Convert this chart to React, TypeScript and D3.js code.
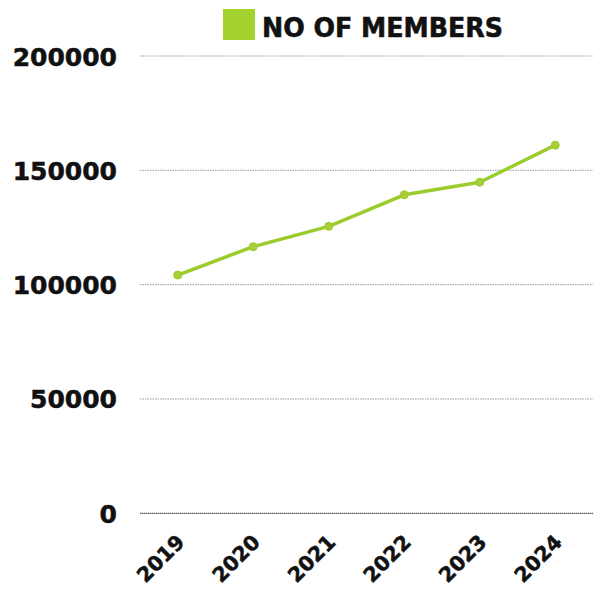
import React from "react";
import * as d3 from "d3";

const years = ["2019", "2020", "2021", "2022", "2023", "2024"];
const members = [104200, 116600, 125500, 139300, 144800, 161000];
const yTicks = [0, 50000, 100000, 150000, 200000];
const legendLabel = "NO OF MEMBERS";

const W = 600;
const H = 591;
const left = 140;
const right = 593;
const top = 56;
const bottom = 513.3;
const green = "#9ccb2c";
const font = "'DejaVu Sans', sans-serif";

export default function App() {
  const x = d3.scalePoint<string>().domain(years).range([left, right]).padding(0.5);
  const y = d3.scaleLinear().domain([0, 200000]).range([bottom, top]);
  const data = years.map((yr, i) => ({ yr, v: members[i] }));
  const line = d3
    .line<{ yr: string; v: number }>()
    .x((d) => x(d.yr) as number)
    .y((d) => y(d.v));

  return (
    <svg
      width={W}
      height={H}
      style={{ position: "absolute", left: 0, top: 0, background: "#fff" }}
    >
      {/* legend */}
      <rect x={223} y={9} width={32} height={31} fill="#a4d22c" />
      <text
        x={262}
        y={37}
        fontFamily={font}
        fontWeight="bold"
        fontSize={27}
        fill="#111"
        stroke="#111"
        strokeWidth={0.6}
        textLength={241}
        lengthAdjust="spacingAndGlyphs"
      >
        {legendLabel}
      </text>

      {/* grid + y labels */}
      {yTicks.map((t) => (
        <g key={t}>
          <line
            x1={left}
            x2={right}
            y1={y(t)}
            y2={y(t)}
            stroke={t === 0 ? "#333" : "#9a9a9a"}
            strokeWidth={1}
            strokeDasharray={t === 0 ? "1.5,0.5" : "1.5,1"}
          />
          <text
            x={117}
            y={y(t) + 9.5}
            textAnchor="end"
            fontFamily={font}
            fontWeight="bold"
            fontSize={25}
            fill="#111"
            stroke="#111"
            strokeWidth={0.5}
          >
            {String(t)}
          </text>
        </g>
      ))}

      {/* x labels */}
      {years.map((yr) => (
        <text
          key={yr}
          transform={`translate(${(x(yr) as number) + 8},${bottom + 30}) rotate(-45)`}
          textAnchor="end"
          fontFamily={font}
          fontWeight="bold"
          fontSize={20.5}
          fill="#111"
          stroke="#111"
          strokeWidth={0.5}
        >
          {yr}
        </text>
      ))}

      {/* line */}
      <path d={line(data) || ""} fill="none" stroke={green} strokeWidth={3.5} strokeLinejoin="round" />
      {data.map((d) => (
        <circle key={d.yr} cx={x(d.yr) as number} cy={y(d.v)} r={4} fill="#a8cf3a" stroke={green} strokeWidth={1} />
      ))}
    </svg>
  );
}
